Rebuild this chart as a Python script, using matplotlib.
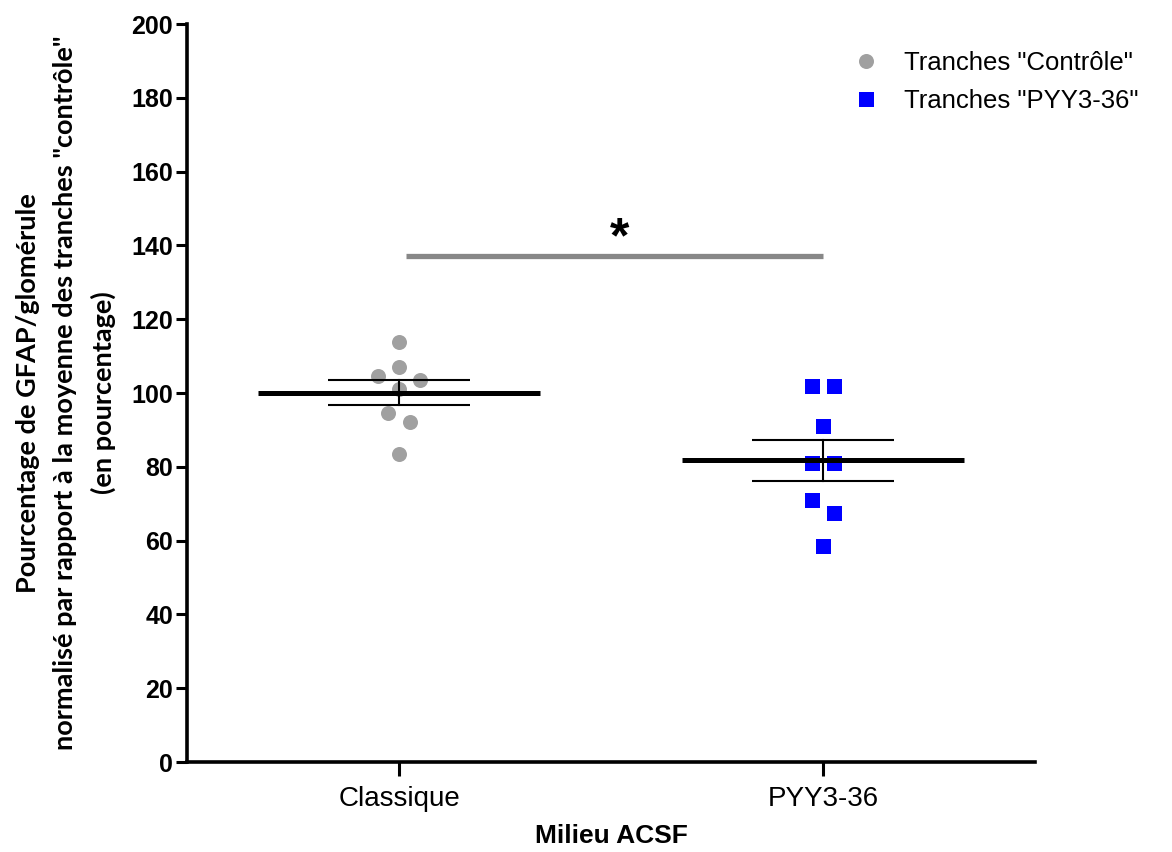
import numpy as np
import matplotlib
matplotlib.use("Agg")
import matplotlib.pyplot as plt

# Data
categories = ["Classique", "PYY3-36"]
controle = [113.8, 107.1, 104.6, 103.5, 101.1, 94.5, 92.1, 83.5]
controle_jitter = [0.0, 0.0, -0.05, 0.05, 0.0, -0.025, 0.025, 0.0]
pyy = [102.0, 102.0, 91.1, 81.1, 81.1, 71.0, 67.4, 58.6]
pyy_jitter = [-0.025, 0.025, 0.0, -0.025, 0.025, -0.025, 0.025, 0.0]
yticks = list(range(0, 201, 20))
sig_y = 137

plt.rcParams['font.family'] = ['Liberation Sans', 'DejaVu Sans']

fig = plt.figure(figsize=(11.72, 8.52), dpi=100)
ax = fig.add_axes([0.1596, 0.1056, 0.7234, 0.8662])

groups = [
    (0, controle, controle_jitter, 'o', '#a0a0a0', 'Tranches "Contrôle"'),
    (1, pyy, pyy_jitter, 's', '#0000ff', 'Tranches "PYY3-36"'),
]

for x, vals, jit, marker, color, label in groups:
    vals = np.array(vals)
    xs = x + np.array(jit)
    ax.plot(xs, vals, linestyle='none', marker=marker, markersize=10.8,
            markerfacecolor=color, markeredgewidth=0, label=label, zorder=2)
    mean = vals.mean()
    sem = vals.std(ddof=1) / np.sqrt(len(vals))
    # mean line
    ax.plot([x - 0.333, x + 0.333], [mean, mean], color='black', lw=3.6,
            solid_capstyle='butt', zorder=3)
    # SEM bars
    ax.plot([x - 0.167, x + 0.167], [mean + sem, mean + sem], color='black',
            lw=1.5, solid_capstyle='butt', zorder=3)
    ax.plot([x - 0.167, x + 0.167], [mean - sem, mean - sem], color='black',
            lw=1.5, solid_capstyle='butt', zorder=3)
    ax.plot([x, x], [mean - sem, mean + sem], color='black', lw=1.5, zorder=3)

# significance bar
ax.plot([0.016, 1.0], [sig_y, sig_y], color='#888888', lw=3.8,
        solid_capstyle='butt')
ax.text(0.52, 135.3, '*', ha='center', va='bottom', fontsize=36,
        fontweight='bold')

ax.set_xlim(-0.5, 1.5)
ax.set_ylim(0, 200)
ax.set_xticks([0, 1])
ax.set_xticklabels(categories, fontsize=20)
ax.set_yticks(yticks)
ax.set_yticklabels([str(t) for t in yticks], fontsize=18, fontweight='bold')
ax.tick_params(axis='y', length=8, width=2.2, pad=2)
ax.tick_params(axis='x', length=10, width=2.2, pad=7)

for side in ['top', 'right']:
    ax.spines[side].set_visible(False)
for side in ['left', 'bottom']:
    ax.spines[side].set_linewidth(2.6)

ax.set_xlabel('Milieu ACSF', fontsize=19, fontweight='bold', labelpad=9)
ax.set_ylabel('Pourcentage de GFAP/glomérule\n'
              'normalisé par rapport à la moyenne des tranches "contrôle"\n'
              '(en pourcentage)',
              fontsize=19.5, fontweight='bold', family=['Lato', 'DejaVu Sans'],
              linespacing=1.65, labelpad=11)

ax.legend(loc='upper right', bbox_to_anchor=(1.15, 0.995), frameon=False,
          fontsize=18.5, handletextpad=0.5, labelspacing=0.55,
          markerscale=1.0)

fig.savefig('out.png', dpi=100)
